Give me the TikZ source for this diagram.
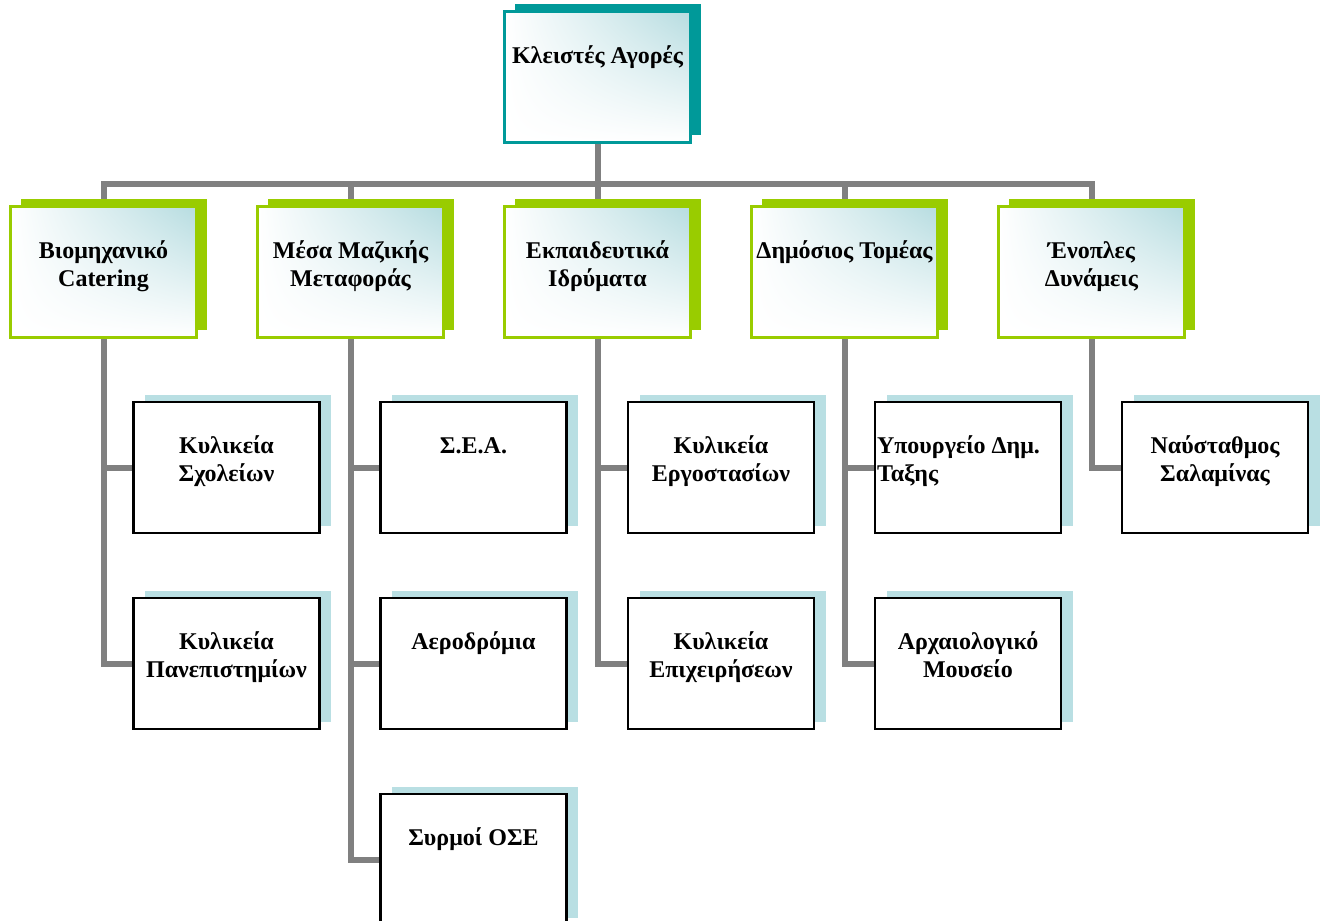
\documentclass[tikz,border=0pt]{standalone}
\usepackage{fontspec}
\setmainfont{Liberation Serif}
\usetikzlibrary{shadows,backgrounds,shadings}
\definecolor{tealdark}{HTML}{009999}
\definecolor{greenbr}{HTML}{99CC00}
\definecolor{paleblue}{HTML}{B9DFE3}
\definecolor{gradteal}{HTML}{B6DCE0}
\definecolor{linegray}{HTML}{808080}
\newcommand{\boxtext}[1]{\begin{minipage}[c][131pt][t]{186pt}\centering\vspace*{32pt}\strut #1\end{minipage}}
\tikzset{
  every node/.style={font=\fontsize{24}{28}\selectfont\bfseries, inner sep=0pt},
  basebox/.style={rectangle, minimum width=186pt, minimum height=131pt, line width=2.2pt},
  topbox/.style={basebox, draw=tealdark, upper right=gradteal, upper left=white, lower left=white, lower right=white,
    general shadow={fill=tealdark, shadow xshift=10.5pt, shadow yshift=7.5pt}},
  midbox/.style={basebox, draw=greenbr, upper right=gradteal, upper left=white, lower left=white, lower right=white,
    general shadow={fill=greenbr, shadow xshift=10.5pt, shadow yshift=7.5pt}},
  leafbox/.style={basebox, draw=black, fill=white,
    general shadow={fill=paleblue, shadow xshift=11.5pt, shadow yshift=7pt}},
  conn/.style={draw=linegray, line width=6pt}
}
\begin{document}
\begin{tikzpicture}[x=1pt,y=-1pt]
\useasboundingbox (0,0) rectangle (1326,921);
% top
\node[topbox] (top) at (597.5,77) {\boxtext{Κλειστές Αγορές}};
% level 2
\node[midbox] (a) at (103.5,272) {\boxtext{Βιομηχανικό\\Catering}};
\node[midbox] (b) at (350.5,272) {\boxtext{Μέσα Μαζικής\\Μεταφοράς}};
\node[midbox] (c) at (597.5,272) {\boxtext{Εκπαιδευτικά\\Ιδρύματα}};
\node[midbox] (d) at (844.5,272) {\boxtext{\hspace*{-10pt}Δημόσιος Τομέας\hspace*{-10pt}}};
\node[midbox] (e) at (1091.5,272) {\boxtext{Ένοπλες\\Δυνάμεις}};
% level 3
\node[leafbox] (a1) at (226.5,467.5) {\boxtext{Κυλικεία\\Σχολείων}};
\node[leafbox] (a2) at (226.5,663.5) {\boxtext{Κυλικεία\\Πανεπιστημίων}};
\node[leafbox] (b1) at (473.5,467.5) {\boxtext{Σ.Ε.Α.}};
\node[leafbox] (b2) at (473.5,663.5) {\boxtext{Αεροδρόμια}};
\node[leafbox] (b3) at (473.5,859.5) {\boxtext{Συρμοί ΟΣΕ}};
\node[leafbox] (c1) at (721,467.5) {\boxtext{Κυλικεία\\Εργοστασίων}};
\node[leafbox] (c2) at (721,663.5) {\boxtext{Κυλικεία\\Επιχειρήσεων}};
\node[leafbox] (d1) at (968,467.5) {\begin{minipage}[c][131pt][t]{186pt}\raggedright\vspace*{32pt}\strut\hspace*{2pt}Υπουργείο Δημ.\\\hspace*{2pt}Ταξης\end{minipage}};
\node[leafbox] (d2) at (968,663.5) {\boxtext{Αρχαιολογικό\\Μουσείο}};
\node[leafbox] (e1) at (1215,467.5) {\boxtext{Ναύσταθμος\\Σαλαμίνας}};
% connectors
\begin{scope}[on background layer]
\foreach \n in {a,b,c,d,e} \draw[conn] (top.south) -- ++(0,40) -| (\n.north);
\foreach \p/\ch in {a/a1,a/a2,b/b1,b/b2,b/b3,c/c1,c/c2,d/d1,d/d2,e/e1}
  \draw[conn] (\p.south) |- (\ch.west);
\end{scope}
\end{tikzpicture}
\end{document}
